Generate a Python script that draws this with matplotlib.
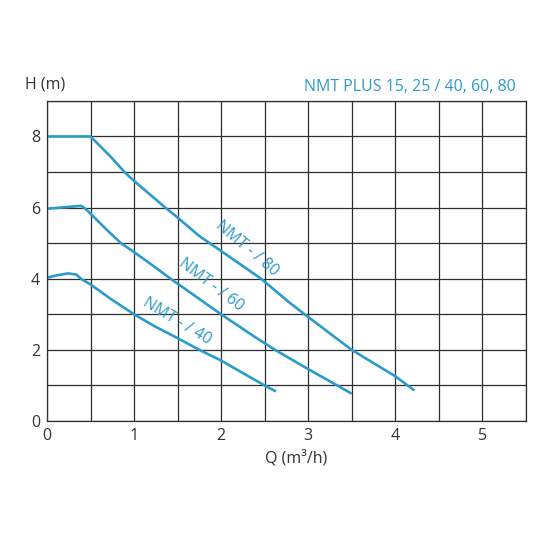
import matplotlib
matplotlib.use("Agg")
import matplotlib.pyplot as plt

plt.rcParams["font.family"] = ["Open Sans", "DejaVu Sans"]

# ---- data ----
q_40 = [0.0, 0.12, 0.24, 0.335, 0.39, 0.5, 0.74, 1.0, 1.24, 1.5, 1.75, 2.0, 2.27, 2.5, 2.63]
h_40 = [4.03, 4.1, 4.15, 4.12, 4.0, 3.84, 3.42, 3.0, 2.66, 2.33, 2.0, 1.70, 1.32, 1.0, 0.83]

q_60 = [0.0, 0.2, 0.39, 0.44, 0.5, 0.68, 0.85, 1.0, 1.25, 1.42, 2.0, 2.39, 2.62, 3.0, 3.5]
h_60 = [5.97, 6.01, 6.05, 5.97, 5.83, 5.39, 5.0, 4.75, 4.31, 4.0, 3.0, 2.36, 2.0, 1.46, 0.77]

q_80 = [0.0, 0.5, 0.74, 0.89, 1.0, 1.35, 1.5, 1.75, 2.0, 2.46, 2.79, 2.96, 3.5, 4.0, 4.22]
h_80 = [8.0, 8.0, 7.41, 7.0, 6.75, 6.02, 5.72, 5.2, 4.78, 4.0, 3.32, 3.0, 2.0, 1.26, 0.86]

curve_labels = ["NMT - / 40", "NMT - / 60", "NMT - / 80"]
label_pos = [(1.49, 2.8, -31), (1.89, 3.83, -37), (2.3, 4.84, -40)]

BLUE = "#2b9bcb"
GRID = "#2e2e2e"
TXT = "#333333"

fig = plt.figure(figsize=(5.5, 5.5), dpi=100)
ax = fig.add_axes([0.0855, 0.2345, 0.8705, 0.582])

for q, h in [(q_40, h_40), (q_60, h_60), (q_80, h_80)]:
    ax.plot(q, h, color=BLUE, linewidth=1.9, solid_capstyle="butt",
            solid_joinstyle="round")

for txt, (x, y, rot) in zip(curve_labels, label_pos):
    ax.text(x, y, txt, color=BLUE, fontsize=11.5, rotation=rot,
            ha="center", va="center", rotation_mode="anchor")

ax.set_xlim(0, 5.5)
ax.set_ylim(0, 9)
ax.set_xticks([i * 0.5 for i in range(12)])
ax.set_yticks(range(10))
ax.grid(True, color=GRID, linewidth=0.9)
ax.set_axisbelow(True)
ax.tick_params(length=0, colors=TXT, labelsize=11.5, pad=5)
ax.set_xticklabels([str(i // 2) if i % 2 == 0 else "" for i in range(12)])
ax.set_yticklabels([str(i) if i % 2 == 0 else "" for i in range(10)])
for s in ax.spines.values():
    s.set_color(GRID)
    s.set_linewidth(0.9)

fig.text(0.538, 0.167, "Q (m³/h)", fontsize=11.5, color=TXT, va="center", ha="center")
fig.text(0.045, 0.847, "H (m)", fontsize=11.5, color=TXT, va="center", ha="left")
fig.text(0.937, 0.841, "NMT PLUS 15, 25 / 40, 60, 80", fontsize=11.5,
         color=BLUE, va="center", ha="right")

fig.savefig("out.png", dpi=100)
